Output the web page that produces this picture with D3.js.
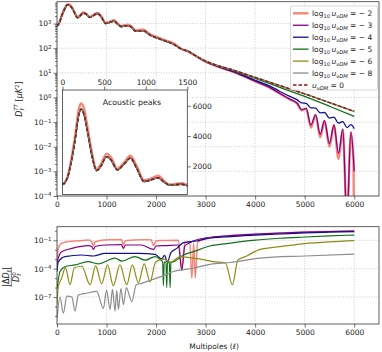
<!DOCTYPE html>
<html><head><meta charset="utf-8">
<script src="https://cdn.jsdelivr.net/npm/d3@7"></script>
<style>
body{margin:0;background:#fff;}
svg{display:block;font-family:"DejaVu Sans",sans-serif;}
</style></head><body>
<svg id="chart" width="382" height="352"></svg>
<script>
// ---------------- DATA ----------------
const xTicks = [0, 1000, 2000, 3000, 4000, 5000, 6000];
const mainYExps = [-4, -3, -2, -1, 0, 1, 2, 3];
const relYExps = [-1, -4, -7];
const insetXTicks = [0, 500, 1000, 1500];
const insetYTicks = [2000, 4000, 6000];
const legendVals = ["2", "3", "4", "5", "6", "8"];

// D_l^TT [muK^2] for u_vDM = 0  ([ell, D])
const mainBase = [[2,900],[10,830],[30,950],[60,1250],[100,2150],[150,3700],[200,5500],[225,5780],[260,5400],[300,4300],[350,2800],[410,1720],[460,2000],[530,2640],[580,2450],[660,1770],[740,2150],[815,2550],[890,1900],[980,1000],[1060,1100],[1150,1250],[1220,960],[1290,760],[1360,790],[1430,820],[1500,720],[1590,480],[1730,520],[1890,330],[2040,250],[2200,190],[2350,145],[2500,95],[2660,72],[2820,46],[3000,30],[3200,21],[3500,14],[4000,6.5],[4500,3.0],[5000,1.4],[5500,0.62],[6000,0.27]];
// log10 u = -2
const mainM2 = [[2,900],[10,830],[30,960],[60,1290],[100,2280],[150,3950],[200,5880],[225,6150],[260,5780],[300,4600],[350,3000],[410,1820],[460,2130],[530,2840],[580,2620],[660,1850],[740,2250],[815,2700],[890,2040],[980,1080],[1060,1190],[1150,1380],[1220,1040],[1290,800],[1360,850],[1430,890],[1500,780],[1590,520],[1730,570],[1890,355],[2040,272],[2200,205],[2350,158],[2500,95],[2660,72],[2820,46],[3000,28.3],[3300,16.4],[3600,10.1],[4000,4.5],[4300,2.45],[4500,1.42],[4700,0.83],[4850,0.56],[4940,0.3],[5030,0.35],[5125,0.06],[5220,0.19],[5313,0.024],[5400,0.11],[5500,0.01],[5590,0.075],[5683,0.0032],[5770,0.05],[5852,1e-5],[5933,0.038],[5985,0.0025],[6000,1e-6]];
// log10 u = -3 (high ell part)
const mainM3High = [[3000,28.5],[3300,16.5],[3600,10.2],[4000,4.6],[4300,2.5],[4500,1.45],[4700,0.85],[4850,0.58],[4940,0.32],[5030,0.36],[5125,0.075],[5220,0.2],[5313,0.032],[5400,0.115],[5500,0.0135],[5590,0.076],[5683,0.0055],[5770,0.052],[5852,1e-5],[5933,0.04],[6000,0.001]];
// log10 u = -4 (high ell part)
const mainM4High = [[3000,29],[3300,17],[3600,10.8],[4000,5.0],[4300,2.9],[4500,1.75],[4700,1.1],[4850,0.8],[4940,0.6],[5030,0.58],[5125,0.38],[5220,0.37],[5313,0.235],[5400,0.245],[5500,0.145],[5590,0.158],[5683,0.09],[5770,0.105],[5852,0.06],[5933,0.079],[6000,0.054]];
// log10 u = -5 (high ell part)
const mainM5High = [[3500,13.6],[4000,6.0],[4500,2.55],[5000,1.1],[5500,0.44],[6000,0.17]];

// |Delta D_l| / D_l^0
const relM2 = [[2,5e-4],[25,0.014],[95,0.05],[230,0.076],[450,0.089],[630,0.107],[700,0.071],[735,0.025],[770,0.071],[1040,0.115],[1300,0.12],[1340,0.032],[1380,0.089],[1700,0.117],[1900,0.112],[1950,0.028],[2000,0.089],[2200,0.095],[2450,0.1],[2519,1e-4],[2580,0.05],[2680,0.071],[2721,1e-5],[2760,0.05],[2790,1e-5],[2840,0.063],[3000,0.141],[3500,0.316],[4000,0.45],[4500,0.6],[5000,0.74],[5500,0.87],[6000,1.0]];
const relM3 = [[2,2.5e-4],[25,0.0013],[95,0.0063],[300,0.014],[630,0.027],[700,0.022],[735,0.011],[770,0.022],[970,0.032],[1300,0.035],[1340,0.014],[1380,0.032],[1700,0.032],[1950,0.011],[2000,0.025],[2200,0.028],[2450,0.032],[2519,6.3e-5],[2580,0.025],[2700,0.063],[3000,0.178],[3500,0.316],[4000,0.45],[4500,0.59],[5000,0.72],[5500,0.85],[6000,0.93]];
const relM4 = [[2,5e-5],[25,5e-4],[160,0.0019],[500,0.0028],[735,0.0022],[970,0.0042],[1650,0.0042],[1980,0.0032],[2115,0.0011],[2170,0.0025],[2228,5e-4],[2300,0.005],[2418,0.014],[2552,0.056],[2822,0.085],[3000,0.141],[3500,0.25],[4000,0.355],[4500,0.47],[5000,0.6],[5500,0.72],[6000,0.83]];
const relM5 = [[2,7.9e-7],[60,5e-5],[160,1.6e-4],[365,2.5e-4],[630,5.5e-4],[830,3.2e-4],[1170,0.0013],[1310,6.3e-4],[1575,0.0019],[1780,7.9e-4],[1980,0.0019],[2080,0.001],[2133,5e-4],[2148,1.6e-6],[2163,5e-4],[2200,5e-4],[2215,1e-6],[2230,4e-4],[2250,4.5e-4],[2268,4e-4],[2283,1e-6],[2298,4e-4],[2330,5e-4],[2360,5.5e-4],[2552,0.0028],[2754,0.0063],[3090,0.025],[3428,0.045],[4000,0.105],[4500,0.166],[5000,0.224],[5500,0.295],[6000,0.36]];
const relM6 = [[2,1.6e-8],[25,1.26e-6],[95,1e-5],[170,1.26e-4],[263,2e-6],[350,1.26e-4],[500,1.8e-4],[667,2e-6],[780,2e-4],[903,2.5e-6],[1020,2.5e-4],[1137,1.6e-6],[1270,2.5e-4],[1408,2e-6],[1520,2.5e-4],[1643,3.2e-6],[1760,3.2e-4],[1879,4e-6],[1990,5e-4],[2150,0.001],[2300,5e-4],[2485,0.0019],[2700,0.0014],[2900,0.001],[3158,5.5e-4],[3400,4e-4],[3542,2e-6],[3650,7.9e-4],[3832,0.0022],[4100,0.011],[4505,0.021],[5000,0.045],[5500,0.068],[6000,0.091]];
const relM8 = [[2,5.6e-10],[60,1e-7],[128,2e-9],[200,1.26e-7],[300,1e-7],[364,3.2e-9],[430,1.6e-7],[600,2.5e-7],[800,4e-7],[936,6.3e-9],[1000,5e-7],[1071,5e-9],[1120,6.3e-7],[1172,3.2e-9],[1205,5e-7],[1239,5e-9],[1290,7.9e-7],[1340,1.6e-8],[1400,1e-6],[1509,3.2e-8],[1600,2e-6],[1711,2.8e-6],[1900,6.3e-6],[2180,2.1e-5],[2350,5e-5],[2754,1.1e-4],[3090,2.9e-4],[3500,4.5e-4],[4100,0.0013],[5000,0.0022],[6000,0.0035]];

// ---------------- SERIES ----------------
const mainM3 = mainBase.filter(d => d[0] < 3000).concat(mainM3High);
const mainM4 = mainBase.filter(d => d[0] < 3000).concat(mainM4High);
const mainM5 = mainBase.filter(d => d[0] < 3500).concat(mainM5High);

const series = [
  {val: legendVals[0], color: "#f4877b", width: 2.4, main: mainM2, rel: relM2},
  {val: legendVals[1], color: "#850085", width: 1.3, main: mainM3, rel: relM3},
  {val: legendVals[2], color: "#10108f", width: 1.3, main: mainM4, rel: relM4},
  {val: legendVals[3], color: "#12701a", width: 1.3, main: mainM5, rel: relM5},
  {val: legendVals[4], color: "#8c8c14", width: 1.3, main: mainBase, rel: relM6},
  {val: legendVals[5], color: "#8c8c8c", width: 1.3, main: mainBase, rel: relM8},
  {val: null, color: "#8e1515", width: 1.4, dash: "3.5,2", main: mainBase, rel: null}
];

// ---------------- SETUP ----------------
const svg = d3.select("#chart");
const FS = 7.5;
const x = d3.scaleLinear().domain([0, 6500]).range([57, 379]);
const yM = d3.scaleLog().domain([1e-4, 7700]).range([196, 1.7]);
const yB = d3.scaleLog().domain([1.4e-10, 2.75]).range([324, 226.7]);
const xI = d3.scaleLinear().domain([0, 1500]).range([62.5, 187.3]);
const yI = d3.scaleLinear().domain([150, 7040]).range([194.4, 90]);

const defs = svg.append("defs");
function clip(id, x0, y0, w, h) {
  defs.append("clipPath").attr("id", id).append("rect").attr("x", x0).attr("y", y0).attr("width", w).attr("height", h);
}
clip("cm", 57, 1.7, 322, 194.3);
clip("cb", 57, 226.7, 322, 97.3);
clip("ci", 62.5, 90, 124.8, 104.4);

function grid(g, xs, ys, xsc, ysc) {
  const [x0, x1] = xsc.range(); const [y0, y1] = ysc.range();
  xs.forEach(v => g.append("line").attr("x1", xsc(v)).attr("x2", xsc(v)).attr("y1", y0).attr("y2", y1)
    .attr("stroke", "#b9b9b9").attr("stroke-width", 0.7).attr("stroke-dasharray", "1,1.6"));
  ys.forEach(v => g.append("line").attr("y1", ysc(v)).attr("y2", ysc(v)).attr("x1", x0).attr("x2", x1)
    .attr("stroke", "#b9b9b9").attr("stroke-width", 0.7).attr("stroke-dasharray", "1,1.6"));
}
function styleAxis(g) {
  g.select(".domain").remove();
  g.attr("font-size", FS).attr("font-family", "DejaVu Sans, sans-serif");
  g.selectAll(".tick line").attr("stroke", "#333").attr("stroke-width", 0.7);
  g.selectAll(".tick text").attr("fill", "#222");
}
function powLabels(g) {
  g.selectAll(".tick text").each(function(d) {
    const t = d3.select(this); const e = Math.round(Math.log10(d));
    t.text(null);
    t.append("tspan").text("10");
    t.append("tspan").attr("dy", "-0.45em").attr("font-size", "0.72em").text(e < 0 ? "\u2212" + (-e) : String(e));
  });
}
function frame(g, xsc, ysc) {
  const [x0, x1] = xsc.range(); const [y0, y1] = ysc.range();
  g.append("rect").attr("x", x0).attr("y", Math.min(y0, y1)).attr("width", x1 - x0).attr("height", Math.abs(y0 - y1))
    .attr("fill", "none").attr("stroke", "#3a3a3a").attr("stroke-width", 0.8);
}

// ---------------- MAIN PANEL ----------------
const gm = svg.append("g");
grid(gm, xTicks, mainYExps.map(e => Math.pow(10, e)), x, yM);
const lineM = d3.line().x(d => x(d[0])).y(d => yM(d[1])).curve(d3.curveMonotoneX);
const gml = gm.append("g").attr("clip-path", "url(#cm)");
series.forEach(s => {
  gml.append("path").datum(s.main).attr("d", lineM).attr("fill", "none")
    .attr("stroke", s.color).attr("stroke-width", s.width).attr("stroke-dasharray", s.dash || null)
    .attr("stroke-linejoin", "round");
});
frame(gm, x, yM);
const axMX = gm.append("g").attr("transform", "translate(0,196)")
  .call(d3.axisBottom(x).tickValues(xTicks).tickSize(3.5).tickPadding(2).tickFormat(d3.format("d")));
styleAxis(axMX);
const minorM = [];
for (let e = -4; e <= 3; e++) for (let m = 2; m <= 9; m++) { const v = m * Math.pow(10, e); if (v < 7700) minorM.push(v); }
const axMYm = gm.append("g").attr("transform", "translate(57,0)")
  .call(d3.axisLeft(yM).tickValues(minorM).tickSize(2).tickFormat(""));
styleAxis(axMYm);
const axMY = gm.append("g").attr("transform", "translate(57,0)")
  .call(d3.axisLeft(yM).tickValues(mainYExps.map(e => Math.pow(10, e))).tickSize(3.5).tickPadding(2));
styleAxis(axMY); powLabels(axMY);

// y label main
const yl = svg.append("text").attr("transform", "translate(22,99) rotate(-90)").attr("text-anchor", "middle")
  .attr("font-size", 8).attr("fill", "#222");
yl.append("tspan").attr("font-style", "italic").text("D");
yl.append("tspan").attr("font-size", 5.6).attr("dy", 2.2).attr("font-style", "italic").text("\u2113");
yl.append("tspan").attr("font-size", 5.6).attr("dy", -5.8).attr("dx", -2.6).attr("font-style", "italic").text("TT");
yl.append("tspan").attr("dy", 3.6).text(" [");
yl.append("tspan").attr("font-style", "italic").text("\u03bcK");
yl.append("tspan").attr("font-size", 5.6).attr("dy", -3.2).text("2");
yl.append("tspan").attr("dy", 3.2).text("]");

// ---------------- INSET ----------------
const gi = svg.append("g");
gi.append("rect").attr("x", 62.5).attr("y", 90).attr("width", 124.8).attr("height", 104.4).attr("fill", "#fff");
const lineI = d3.line().x(d => xI(d[0])).y(d => yI(d[1])).curve(d3.curveMonotoneX);
const gil = gi.append("g").attr("clip-path", "url(#ci)");
series.forEach(s => {
  gil.append("path").datum(s.main.filter(d => d[0] <= 1600)).attr("d", lineI).attr("fill", "none")
    .attr("stroke", s.color).attr("stroke-width", s.width).attr("stroke-dasharray", s.dash || null);
});
frame(gi, xI, yI);
const axIX = gi.append("g").attr("transform", "translate(0,90)")
  .call(d3.axisTop(xI).tickValues(insetXTicks).tickSize(3.5).tickPadding(2).tickFormat(d3.format("d")));
styleAxis(axIX);
const axIY = gi.append("g").attr("transform", "translate(187.3,0)")
  .call(d3.axisRight(yI).tickValues(insetYTicks).tickSize(3.5).tickPadding(2).tickFormat(d3.format("d")));
styleAxis(axIY);
gi.append("text").attr("x", 132).attr("y", 105).attr("text-anchor", "middle").attr("font-size", 7.8)
  .attr("fill", "#222").text("Acoustic peaks");

// ---------------- LEGEND ----------------
const gl = svg.append("g");
gl.append("rect").attr("x", 290.5).attr("y", 6).attr("width", 87).attr("height", 84).attr("rx", 2)
  .attr("fill", "#fff").attr("fill-opacity", 0.85).attr("stroke", "#cfcfcf").attr("stroke-width", 0.8);
series.forEach((s, i) => {
  const yy = 13.3 + i * 11.95;
  gl.append("line").attr("x1", 293).attr("x2", 308.5).attr("y1", yy).attr("y2", yy)
    .attr("stroke", s.color).attr("stroke-width", s.width).attr("stroke-dasharray", s.dash || null);
  const t = gl.append("text").attr("x", 312).attr("y", yy + 2.7).attr("font-size", FS).attr("fill", "#222");
  if (s.val !== null) {
    t.append("tspan").text("log");
    t.append("tspan").attr("font-size", 5.2).attr("dy", 1.8).text("10");
    t.append("tspan").attr("dy", -1.8).text("\u2009");
    t.append("tspan").attr("font-style", "italic").text("u");
    t.append("tspan").attr("font-size", 5.2).attr("dy", 1.8).attr("font-style", "italic").text("\u03bdDM");
    t.append("tspan").attr("dy", -1.8).text(" = \u2212 " + s.val);
  } else {
    t.append("tspan").attr("font-style", "italic").text("u");
    t.append("tspan").attr("font-size", 5.2).attr("dy", 1.8).attr("font-style", "italic").text("\u03bdDM");
    t.append("tspan").attr("dy", -1.8).text(" = 0");
  }
});

// ---------------- BOTTOM PANEL ----------------
const gb = svg.append("g");
grid(gb, xTicks, relYExps.map(e => Math.pow(10, e)), x, yB);
const lineB = d3.line().x(d => x(d[0])).y(d => yB(d[1])).curve(d3.curveMonotoneX);
const gbl = gb.append("g").attr("clip-path", "url(#cb)");
series.filter(s => s.rel).forEach(s => {
  gbl.append("path").datum(s.rel).attr("d", lineB).attr("fill", "none")
    .attr("stroke", s.color).attr("stroke-width", s === series[0] ? 1.5 : 1.2).attr("stroke-linejoin", "round");
});
frame(gb, x, yB);
const axBX = gb.append("g").attr("transform", "translate(0,324)")
  .call(d3.axisBottom(x).tickValues(xTicks).tickSize(3.5).tickPadding(2).tickFormat(d3.format("d")));
styleAxis(axBX);
const minorB = [];
for (let e = -9; e <= 0; e++) if (!relYExps.includes(e)) minorB.push(Math.pow(10, e));
const axBYm = gb.append("g").attr("transform", "translate(57,0)")
  .call(d3.axisLeft(yB).tickValues(minorB).tickSize(2).tickFormat(""));
styleAxis(axBYm);
const axBY = gb.append("g").attr("transform", "translate(57,0)")
  .call(d3.axisLeft(yB).tickValues(relYExps.map(e => Math.pow(10, e))).tickSize(3.5).tickPadding(2));
styleAxis(axBY); powLabels(axBY);

svg.append("text").attr("x", 214).attr("y", 349).attr("text-anchor", "middle").attr("font-size", FS)
  .attr("fill", "#222").text("Multipoles (\u2113)");

// fraction label
const fr = svg.append("g").attr("transform", "translate(11,277) rotate(-90)").attr("fill", "#222");
const num = fr.append("text").attr("x", 0).attr("y", -2).attr("text-anchor", "middle").attr("font-size", 8);
num.append("tspan").text("|\u0394");
num.append("tspan").attr("font-style", "italic").text("D");
num.append("tspan").attr("font-size", 5.6).attr("dy", 1.8).attr("font-style", "italic").text("\u2113");
num.append("tspan").attr("dy", -1.8).text("|");
fr.append("line").attr("x1", -10).attr("x2", 10).attr("y1", 0.3).attr("y2", 0.3).attr("stroke", "#222").attr("stroke-width", 0.6);
const den = fr.append("text").attr("x", 0).attr("y", 8).attr("text-anchor", "middle").attr("font-size", 8);
den.append("tspan").attr("font-style", "italic").text("D");
den.append("tspan").attr("font-size", 5.6).attr("dy", 1.6).attr("font-style", "italic").text("\u2113");
den.append("tspan").attr("font-size", 5.6).attr("dy", -5).attr("dx", -2.2).text("0");
</script>
</body></html>
